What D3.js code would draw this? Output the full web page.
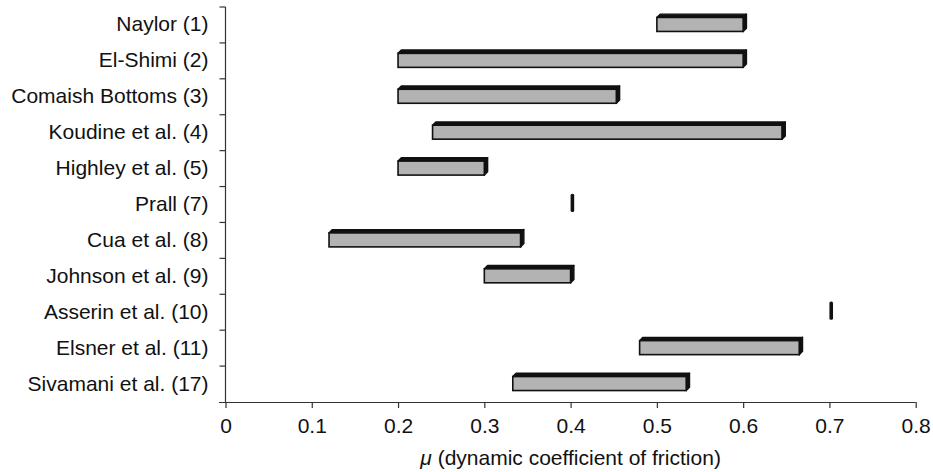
<!DOCTYPE html>
<html>
<head>
<meta charset="utf-8">
<script src="https://cdn.jsdelivr.net/npm/d3@7"></script>
<style>
  body { margin: 0; background: #fff; }
  text { font-family: "Liberation Sans", Arial, Helvetica, sans-serif; }
</style>
</head>
<body>
<div id="chart"></div>
<script>
// data: friction ranges per study
var studies = ["Naylor (1)", "El-Shimi (2)", "Comaish Bottoms (3)", "Koudine et al. (4)",
    "Highley et al. (5)", "Prall (7)", "Cua et al. (8)", "Johnson et al. (9)",
    "Asserin et al. (10)", "Elsner et al. (11)", "Sivamani et al. (17)"];
var muLow = [0.5, 0.2, 0.2, 0.24, 0.2, 0.4, 0.12, 0.3, 0.7, 0.48, 0.333];
var muHigh = [0.6, 0.6, 0.453, 0.645, 0.3, 0.4, 0.342, 0.4, 0.7, 0.665, 0.534];
var xTicks = [0, 0.1, 0.2, 0.3, 0.4, 0.5, 0.6, 0.7, 0.8];

var W = 933, H = 472;
var margin = { top: 7, right: 17, bottom: 70, left: 225.5 };
var fs = 21;

var svg = d3.select("#chart").append("svg")
    .attr("width", W)
    .attr("height", H);

var x = d3.scaleLinear()
    .domain([0, 0.8])
    .range([margin.left, 915.7]);

var y = d3.scaleBand()
    .domain(studies)
    .range([margin.top, 402]);

var data = studies.map(function (s, i) {
    return { name: s, lo: muLow[i], hi: muHigh[i] };
});

// x axis
var gx = svg.append("g")
    .attr("transform", "translate(0,402)")
    .call(d3.axisBottom(x).tickValues(xTicks).tickSize(6).tickSizeOuter(0)
        .tickFormat(function (d) { return d === 0 ? "0" : d3.format(".1f")(d); }));
gx.select(".domain").attr("d", "M219,0.5H" + x(0.8));
gx.selectAll("text").attr("font-size", fs).attr("fill", "#111").attr("dy", "0.95em").attr("y", 11)
    .attr("font-family", "Liberation Sans, Arial, sans-serif");
gx.selectAll("line, path").attr("stroke", "#333").attr("stroke-width", 1.2);

// y axis: ticks at band boundaries
var gy = svg.append("g").attr("transform", "translate(" + margin.left + ",0)");
gy.append("line")
    .attr("x1", 0).attr("x2", 0)
    .attr("y1", margin.top).attr("y2", 402)
    .attr("stroke", "#333").attr("stroke-width", 1.2);
var bounds = studies.map(function (s) { return y(s); });
gy.selectAll(".tk").data(bounds).enter().append("line")
    .attr("x1", -6).attr("x2", 0)
    .attr("y1", function (d) { return d; })
    .attr("y2", function (d) { return d; })
    .attr("stroke", "#333").attr("stroke-width", 1.2);

gy.selectAll(".lbl").data(studies).enter().append("text")
    .attr("x", -17)
    .attr("y", function (d) { return y(d) + y.bandwidth() / 2 + 6.5; })
    .attr("text-anchor", "end")
    .attr("font-size", fs)
    .attr("fill", "#111")
    .text(function (d) { return d; });

// 3D-ish range bars
var depth = 3.3, face = 14;
var bars = svg.append("g").selectAll("g").data(data).enter().append("g");

bars.each(function (d) {
    var g = d3.select(this);
    var x0 = x(d.lo), x1 = x(d.hi);
    var yc = y(d.name) + y.bandwidth() / 2 - 0.5;
    var y0 = yc - face / 2, y1 = yc + face / 2;

    // single value: just an upright black tick
    if (x1 <= x0) {
        g.append("rect")
            .attr("x", x1).attr("y", y0 - depth)
            .attr("width", 3.6).attr("height", face + depth + 1)
            .attr("rx", 1.6)
            .attr("fill", "#111");
        return;
    }
    // top face
    g.append("path")
        .attr("d", "M" + x0 + "," + y0 + "L" + (x0 + depth) + "," + (y0 - depth) +
            "L" + (x1 + depth) + "," + (y0 - depth) + "L" + x1 + "," + y0 + "Z")
        .attr("fill", "#111").attr("stroke", "#111").attr("stroke-width", 1.4)
        .attr("stroke-linejoin", "round");
    // side face
    g.append("path")
        .attr("d", "M" + x1 + "," + y0 + "L" + (x1 + depth) + "," + (y0 - depth) +
            "L" + (x1 + depth) + "," + (y1 - depth) + "L" + x1 + "," + y1 + "Z")
        .attr("fill", "#111").attr("stroke", "#111").attr("stroke-width", 1.4)
        .attr("stroke-linejoin", "round");
    // front face
    g.append("rect")
        .attr("x", x0).attr("y", y0)
        .attr("width", x1 - x0).attr("height", face)
        .attr("fill", "#b3b3b3")
        .attr("stroke", "#111").attr("stroke-width", 1.6);
});

// axis title
var title = svg.append("text")
    .attr("x", x(0.4))
    .attr("y", 465)
    .attr("text-anchor", "middle")
    .attr("font-size", fs)
    .attr("fill", "#111");
title.append("tspan").attr("font-style", "italic").text("\u03bc");
title.append("tspan").text(" (dynamic coefficient of friction)");
</script>
</body>
</html>
